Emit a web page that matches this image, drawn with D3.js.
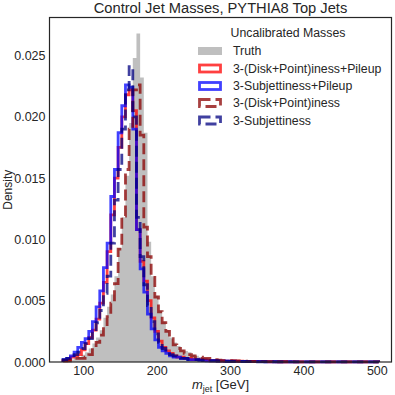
<!DOCTYPE html>
<html>
<head>
<meta charset="utf-8">
<script src="https://cdn.jsdelivr.net/npm/d3@7"></script>
<style>
body { margin: 0; background: #fff; }
text { font-family: "Liberation Sans", Arial, sans-serif; fill: #262626; }
</style>
</head>
<body>
<script>
// histogram bins: 5 GeV wide, centres 75 ... 500
let binEdges = d3.range(72.5, 505, 5);

// densities, one value per bin
let truthVals = [
    .0001,.0002,.0002,.0003,.0004,.0006,.0008,.0011,.0015,.0020,
    .0026,.0036,.0045,.0055,.0070,.0093,.0118,.0152,.0195,.0248,
    .0268,.0232,.0187,.0098,.0070,.0054,.0042,.0033,.0026,.0020,
    .0016,.0013,.0010,.0009,.0008,.0006,.0005,.0004,.0003,.0003,
    .0002,.0002,.00015,.00012,.0001,.0001,
    .00008,.00008,.00007,.00006,.00006,.00005,.00005,.00004,.00004,.00004,
    .00003,.00003,.00003,.00003,.00002,.00002,.00002,.00002,.00002,.00002,
    .00001,.00001,.00001,.00001,.00001,.00001,.00001,.00001,.00001,.00001,
    .00001,.00001,.00001,.00001,.00001,.00001,.00001,.00001,.00001,.00001
];
let dpPileupVals = [
    .0001,.0002,.0004,.0005,.0006,.0010,.0015,.0020,.0026,.0035,
    .0048,.0065,.0090,.0120,.0150,.0175,.0200,.0218,.0222,.0205,
    .0108,.0082,.0066,.0050,.0036,.0025,.0017,.0012,.0009,.0007,
    .0005,.0004,.0004,.0003,.0003,.0002,.0002,.0002,.00015,.00012,
    .0001,.0001,.00008,.00008,.00006,.00006,
    .00008,.00006,.00006,.00005,.00004,.00004,.00003,.00004,.00003,.00003,
    .00002,.00003,.00002,.00002,.00002,.00001,.00002,.00001,.00001,.00001,
    .00001,.00001,.00001,.00001,.00001,.00001,.00001,.00001,.00001,.00001,
    .00001,.00001,.00001,.00001,.00001,.00001,.00001,.00001,.00001,.00001
];
let subPileupVals = [
    .0002,.0003,.0005,.0008,.0012,.0016,.0019,.0025,.0033,.0045,
    .0058,.0077,.0097,.0135,.0157,.0187,.0209,.0226,.0224,.0190,
    .0108,.0076,.0057,.0039,.0027,.0018,.0012,.0009,.0007,.0005,
    .0004,.0004,.0003,.0003,.0002,.0002,.0002,.00015,.00015,.0001,
    .0001,.0001,.00008,.00008,.00006,.00006,
    .00006,.00005,.00005,.00004,.00004,.00003,.00004,.00003,.00003,.00002,
    .00002,.00002,.00002,.00002,.00001,.00002,.00001,.00001,.00001,.00001,
    .00001,.00001,.00001,.00001,.00001,.00001,.00001,.00001,.00001,.00001,
    .00001,.00001,.00001,.00001,.00001,.00001,.00001,.00001,.00001,.00001
];
let dpVals = [
    .0001,.0001,.0002,.0003,.0003,.0003,.0004,.0006,.0010,.0016,
    .0022,.0029,.0037,.0048,.0064,.0092,.0119,.0157,.0190,.0222,
    .0226,.0185,.0110,.0086,.0069,.0053,.0041,.0032,.0025,.0019,
    .0014,.0011,.0009,.0007,.0006,.0005,.0004,.0004,.0003,.0003,
    .0002,.0002,.00015,.0001,.0001,.0001,
    .00008,.00008,.00006,.00006,.00005,.00005,.00004,.00004,.00003,.00003,
    .00003,.00002,.00002,.00002,.00002,.00002,.00001,.00001,.00001,.00001,
    .00001,.00001,.00001,.00001,.00001,.00001,.00001,.00001,.00001,.00001,
    .00001,.00001,.00001,.00001,.00001,.00001,.00001,.00001,.00001,.00001
];
let subVals = [
    .0002,.0003,.0004,.0006,.0008,.0011,.0015,.0019,.0025,.0032,
    .0042,.0056,.0070,.0097,.0132,.0157,.0190,.0222,.0241,.0200,
    .0118,.0086,.0063,.0046,.0033,.0023,.0016,.0011,.0008,.0006,
    .0005,.0004,.0003,.0003,.0002,.0002,.0002,.00015,.00012,.0001,
    .0001,.0001,.00008,.00006,.00006,.00005,
    .00005,.00005,.00004,.00004,.00003,.00003,.00003,.00002,.00002,.00002,
    .00002,.00002,.00001,.00001,.00001,.00001,.00001,.00001,.00001,.00001,
    .00001,.00001,.00001,.00001,.00001,.00001,.00001,.00001,.00001,.00001,
    .00001,.00001,.00001,.00001,.00001,.00001,.00001,.00001,.00001,.00001
];

let seriesNames = ["3-(Disk+Point)iness+Pileup", "3-Subjettiness+Pileup",
                   "3-(Disk+Point)iness", "3-Subjettiness"];
let seriesVals = [dpPileupVals, subPileupVals, dpVals, subVals];
let seriesColors = ["rgba(255,0,0,0.75)", "rgba(0,0,255,0.75)",
                    "rgba(139,0,0,0.75)", "rgba(0,0,128,0.75)"];
let seriesDash = [null, null, "11,5", "11,5"];

let yTicks = [0, 0.005, 0.010, 0.015, 0.020, 0.025];
let xTicks = [100, 200, 300, 400, 500];

let W = 395, H = 395;
let margin = {top: 17.5, right: 3.5, bottom: 33, left: 49.5};
let width = W - margin.left - margin.right;
let height = H - margin.top - margin.bottom;

let svg = d3.select("body").append("svg")
    .attr("width", W)
    .attr("height", H);

let g = svg.append("g")
    .attr("transform", "translate(" + margin.left + "," + margin.top + ")");

let x = d3.scaleLinear().domain([54, 520]).range([0, width]);
let y = d3.scaleLinear().domain([0, 0.0281]).range([height, 0]);

function stepPoints(vals) {
    let pts = [[binEdges[0], 0]];
    for (let i = 0; i < vals.length; i++) {
        pts.push([binEdges[i], vals[i]]);
        pts.push([binEdges[i + 1], vals[i]]);
    }
    pts.push([binEdges[vals.length], 0]);
    return pts;
}

let line = d3.line().x(d => x(d[0])).y(d => y(d[1]));

// truth, filled
g.append("path")
    .attr("d", line(stepPoints(truthVals)))
    .attr("fill", "rgba(128,128,128,0.5)")
    .attr("stroke", "none");

for (let i = 0; i < seriesVals.length; i++) {
    g.append("path")
        .attr("d", line(stepPoints(seriesVals[i])))
        .attr("fill", "none")
        .attr("stroke", seriesColors[i])
        .attr("stroke-width", 2.8)
        .attr("stroke-linejoin", "miter")
        .attr("stroke-dasharray", seriesDash[i]);
}

// axes, no tick marks
let xAxis = g.append("g")
    .attr("transform", "translate(0," + height + ")")
    .call(d3.axisBottom(x).tickValues(xTicks).tickSize(0).tickPadding(4));
let yAxis = g.append("g")
    .call(d3.axisLeft(y).tickValues(yTicks).tickFormat(d3.format(".3f")).tickSize(0).tickPadding(4));
xAxis.select(".domain").remove();
yAxis.select(".domain").remove();
g.selectAll(".tick text").attr("font-size", 12.5).attr("fill", "#262626")
    .style("font-family", "'Liberation Sans', Arial, sans-serif");

g.append("rect")
    .attr("width", width)
    .attr("height", height)
    .attr("fill", "none")
    .attr("stroke", "#262626")
    .attr("stroke-width", 1.2);

// title and labels
svg.append("text")
    .attr("x", margin.left + width / 2)
    .attr("y", 13)
    .attr("text-anchor", "middle")
    .attr("font-size", 14.7)
    .text("Control Jet Masses, PYTHIA8 Top Jets");

svg.append("text")
    .attr("transform", "translate(12," + (margin.top + height / 2) + ") rotate(-90)")
    .attr("text-anchor", "middle")
    .attr("font-size", 12)
    .text("Density");

let xl = svg.append("text")
    .attr("x", margin.left + width / 2)
    .attr("y", 389)
    .attr("text-anchor", "middle")
    .attr("font-size", 13);
xl.append("tspan").attr("font-style", "italic").text("m");
xl.append("tspan").attr("font-size", 9).attr("dy", 3).text("jet");
xl.append("tspan").attr("dy", -3).text(" [GeV]");

// legend
let leg = svg.append("g");
leg.append("text")
    .attr("x", 288)
    .attr("y", 37)
    .attr("text-anchor", "middle")
    .attr("font-size", 12.3)
    .text("Uncalibrated Masses");

let rowY = [51, 68.5, 86, 103, 120.5];
leg.append("rect")
    .attr("x", 198).attr("y", rowY[0] - 4)
    .attr("width", 24).attr("height", 8)
    .attr("fill", "rgba(128,128,128,0.5)");
leg.append("text")
    .attr("x", 233).attr("y", rowY[0] + 4.3)
    .attr("font-size", 12.3)
    .text("Truth");

for (let i = 0; i < seriesNames.length; i++) {
    leg.append("rect")
        .attr("x", 199.5).attr("y", rowY[i + 1] - 3.5)
        .attr("width", 21).attr("height", 7)
        .attr("fill", "none")
        .attr("stroke", seriesColors[i])
        .attr("stroke-width", 2.8)
        .attr("stroke-dasharray", seriesDash[i]);
    leg.append("text")
        .attr("x", 233).attr("y", rowY[i + 1] + 4.3)
        .attr("font-size", 12.3)
        .text(seriesNames[i]);
}
</script>
</body>
</html>
